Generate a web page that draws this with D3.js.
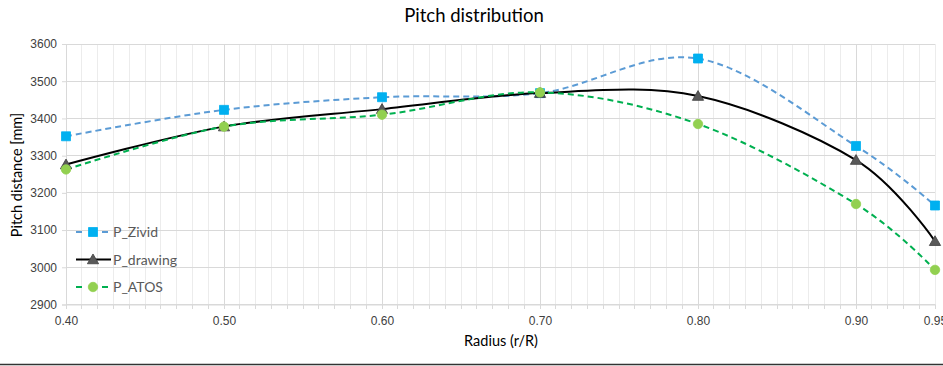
<!DOCTYPE html>
<html>
<head>
<meta charset="utf-8">
<script src="https://cdn.jsdelivr.net/npm/d3@7/dist/d3.min.js"></script>
<style>
  html, body { margin: 0; padding: 0; background: #fff; }
  svg { display: block; font-family: Lato, "Open Sans", sans-serif; }
</style>
</head>
<body>
<svg id="chart" width="943" height="366"></svg>
<script>
// Radius positions (r/R) and pitch values in mm
const radius = [0.40, 0.50, 0.60, 0.70, 0.80, 0.90, 0.95];
const pZivid = [3352, 3423, 3457, 3468, 3561, 3326, 3166];
const pDrawing = [3276, 3378, 3425, 3468, 3460, 3288, 3070];
const pAtos = [3263, 3378, 3410, 3470, 3385, 3170, 2993];

const xTickValues = [0.40, 0.50, 0.60, 0.70, 0.80, 0.90, 0.95];
const yTickValues = [2900, 3000, 3100, 3200, 3300, 3400, 3500, 3600];

const svg = d3.select("#chart");
const W = 943, H = 366;

const x = d3.scaleLinear().domain([0.40, 0.95]).range([66, 935]);
const y = d3.scaleLinear().domain([2900, 3600]).range([304.5, 44]);

// Gridlines: minor verticals every 0.01, majors every 0.1
const minorX = d3.range(40, 96).map(v => v / 100);
svg.append("g").selectAll("line").data(minorX).join("line")
  .attr("x1", d => x(d)).attr("x2", d => x(d))
  .attr("y1", y(2900)).attr("y2", y(3600))
  .attr("stroke", d => (Math.round(d * 100) % 10 === 0) ? "#d9d9d9" : "#ececec")
  .attr("stroke-width", 1)
  .attr("shape-rendering", "crispEdges");

svg.append("g").selectAll("line").data(yTickValues).join("line")
  .attr("x1", x(0.40)).attr("x2", x(0.95))
  .attr("y1", d => y(d)).attr("y2", d => y(d))
  .attr("stroke", "#d9d9d9").attr("stroke-width", 1)
  .attr("shape-rendering", "crispEdges");

// Axes
const xAxis = d3.axisBottom(x).tickValues(xTickValues).tickFormat(d3.format(".2f")).tickSize(4);
const gx = svg.append("g").attr("transform", `translate(0,${y(2900)})`).call(xAxis);
gx.select(".domain").attr("stroke", "#d9d9d9");
gx.selectAll(".tick line").attr("stroke", "#d9d9d9");
gx.selectAll("text").attr("fill", "#404040").attr("font-size", 12).attr("dy", "1.1em");
// minor tick marks along the bottom axis
svg.append("g").selectAll("line").data(minorX).join("line")
  .attr("x1", d => x(d)).attr("x2", d => x(d))
  .attr("y1", y(2900)).attr("y2", y(2900) + 4)
  .attr("stroke", "#d9d9d9").attr("shape-rendering", "crispEdges");

const yAxis = d3.axisLeft(y).tickValues(yTickValues).tickFormat(d3.format("d")).tickSize(4).tickPadding(5);
const gy = svg.append("g").attr("transform", `translate(${x(0.40)},0)`).call(yAxis);
gy.select(".domain").attr("stroke", "#d9d9d9");
gy.selectAll(".tick line").attr("stroke", "#d9d9d9");
gy.selectAll("text").attr("fill", "#404040").attr("font-size", 12);

// Titles
svg.append("text").attr("x", 474).attr("y", 22).attr("text-anchor", "middle")
  .attr("font-size", 18.5).attr("fill", "#000").text("Pitch distribution");
svg.append("text").attr("x", 501).attr("y", 346).attr("text-anchor", "middle")
  .attr("font-size", 14.5).attr("fill", "#000").text("Radius (r/R)");
svg.append("text").attr("transform", "translate(22,175) rotate(-90)").attr("text-anchor", "middle")
  .attr("font-size", 14.5).attr("fill", "#000").text("Pitch distance [mm]");

// Series
const series = [
  { name: "P_Zivid", values: pZivid, line: "#5b9bd5", dash: "6,4", width: 2, marker: "square", fill: "#00b0f0", stroke: "#00b0f0" },
  { name: "P_drawing", values: pDrawing, line: "#000000", dash: null, width: 2, marker: "triangle", fill: "#595959", stroke: "#404040" },
  { name: "P_ATOS", values: pAtos, line: "#00b050", dash: "6,4", width: 2, marker: "circle", fill: "#92d050", stroke: "#92d050" }
];

const line = d3.line().x(d => x(d[0])).y(d => y(d[1])).curve(d3.curveCatmullRom.alpha(0));

const symbolType = { square: d3.symbolSquare, triangle: d3.symbolTriangle, circle: d3.symbolCircle };
const symbolSize = { square: 81, triangle: 55, circle: 70 };

series.forEach(s => {
  const pts = radius.map((r, i) => [r, s.values[i]]);
  svg.append("path").attr("d", line(pts))
    .attr("fill", "none").attr("stroke", s.line).attr("stroke-width", s.width)
    .attr("stroke-dasharray", s.dash);
});
series.forEach(s => {
  const pts = radius.map((r, i) => [r, s.values[i]]);
  svg.append("g").selectAll("path").data(pts).join("path")
    .attr("transform", d => `translate(${x(d[0])},${y(d[1]) + (s.marker === "triangle" ? 1 : 0)})`)
    .attr("d", d3.symbol().type(symbolType[s.marker]).size(symbolSize[s.marker]))
    .attr("fill", s.fill).attr("stroke", s.stroke).attr("stroke-width", 0.8);
});

// Legend
const legend = svg.append("g");
series.forEach((s, i) => {
  const ly = 232 + i * 27.5;
  const g = legend.append("g").attr("transform", `translate(0,${ly})`);
  g.append("line").attr("x1", 76).attr("x2", 111).attr("y1", 0).attr("y2", 0)
    .attr("stroke", s.line).attr("stroke-width", s.width)
    .attr("stroke-dasharray", s.dash ? "6,7" : null);
  g.append("path")
    .attr("transform", `translate(93,${s.marker === "triangle" ? 1 : 0})`)
    .attr("d", d3.symbol().type(symbolType[s.marker]).size(symbolSize[s.marker]))
    .attr("fill", s.fill).attr("stroke", s.stroke).attr("stroke-width", 0.8);
  g.append("text").attr("x", 113).attr("y", 5)
    .attr("font-size", 14).attr("fill", "#595959").text(s.name);
});

// Rule along the bottom edge
svg.append("line").attr("x1", 0).attr("x2", W).attr("y1", 364.5).attr("y2", 364.5)
  .attr("stroke", "#333").attr("stroke-width", 1.5);
</script>
</body>
</html>
